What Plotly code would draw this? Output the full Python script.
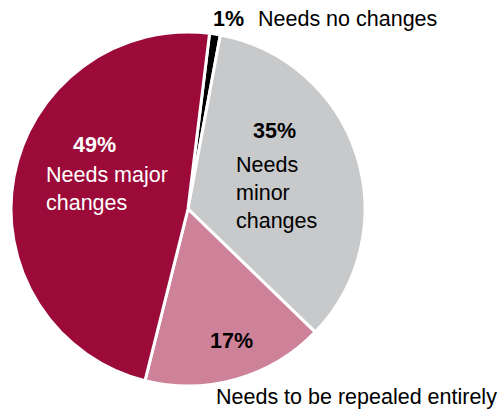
import plotly.graph_objects as go

labels = ["Needs no changes", "Needs minor changes", "Needs to be repealed entirely", "Needs major changes"]
values = [1, 35, 17, 49]
colors = ["#000000", "#C8C9CB", "#CE8299", "#9B0A38"]
pct_text = [f"{v}%" for v in values]
label_text = ["Needs no changes", "Needs<br>minor<br>changes", "Needs to be repealed entirely", "Needs major<br>changes"]

W, H = 502, 412
cx, cy, r = 188, 209, 177

FONT = "Liberation Sans, Arial, sans-serif"
FS = 21.5

fig = go.Figure(go.Pie(
    labels=labels, values=values, sort=False, direction="clockwise", rotation=7,
    marker=dict(colors=colors, line=dict(color="white", width=3)),
    textinfo="none", hoverinfo="skip", showlegend=False,
    domain=dict(x=[(cx - r) / W, (cx + r) / W], y=[(H - cy - r) / H, (H - cy + r) / H]),
))

def ann(text, px, py, color="black", bold=False, xanchor="left", yanchor="middle", align="left"):
    t = f"<b>{text}</b>" if bold else text
    fig.add_annotation(text=t, x=px / W, y=1 - py / H, xref="paper", yref="paper",
                       xanchor=xanchor, yanchor=yanchor, align=align, showarrow=False,
                       font=dict(family=FONT, size=FS, color=color))

# Needs no changes (1%)
ann(pct_text[0], 211, 19, bold=True)
ann(label_text[0], 256, 19)
# Needs minor changes (35%)
ann(pct_text[1], 251, 131, bold=True)
ann(label_text[1], 234, 193)
# Repealed (17%)
ann(pct_text[2], 208, 341, bold=True)
ann(label_text[2], 214, 397)
# Major (49%)
ann(pct_text[3], 71, 145, color="white", bold=True)
ann(label_text[3], 44, 189, color="white")

fig.update_layout(width=W, height=H, margin=dict(l=0, r=0, t=0, b=0),
                  paper_bgcolor="white", plot_bgcolor="white")
fig.write_html("out.html")
